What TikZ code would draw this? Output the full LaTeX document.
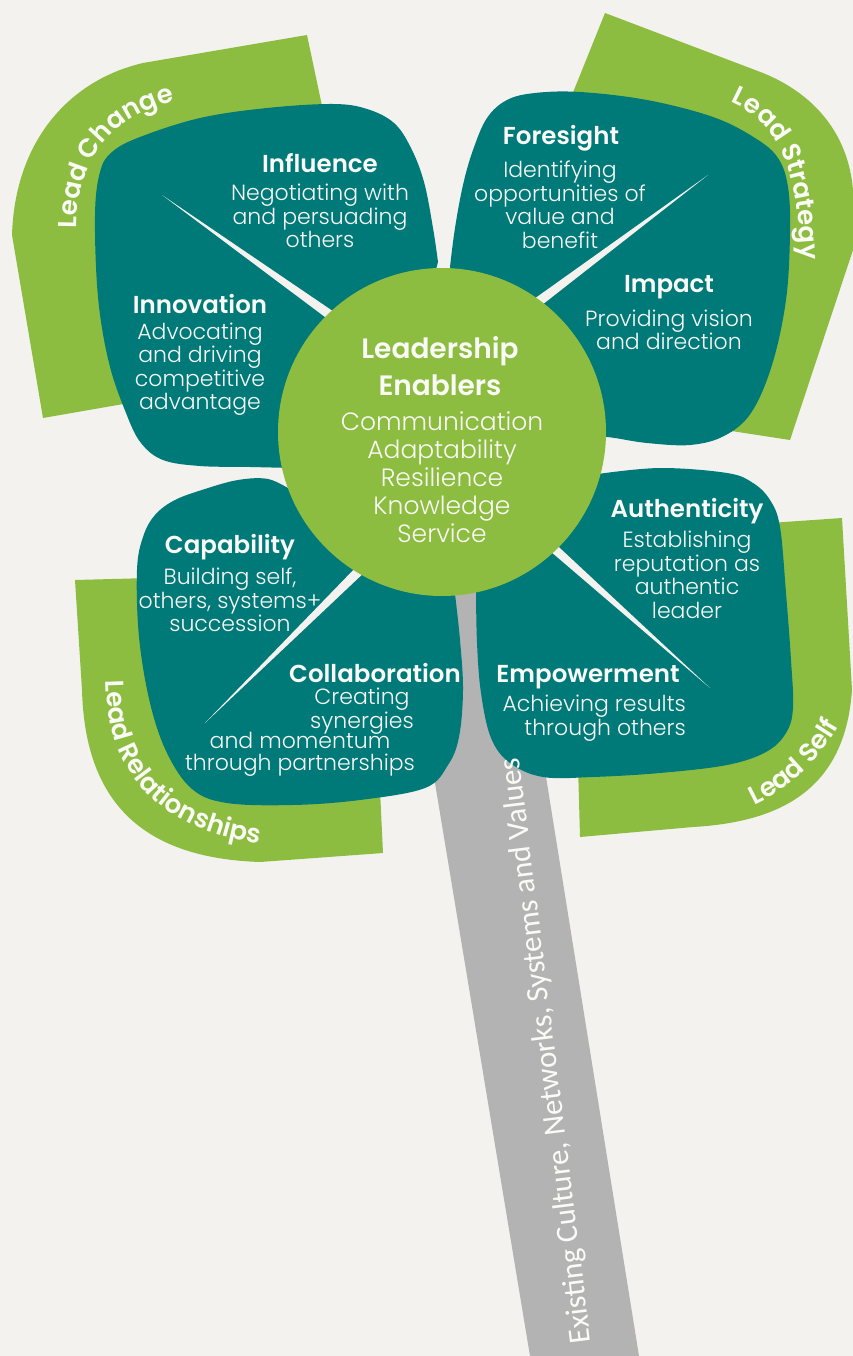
\documentclass[tikz,border=0pt]{standalone}
\usepackage{fontspec}
\setmainfont{Poppins}
\newfontfamily\headfont{Poppins SemiBold}
\newfontfamily\bodyfont{Poppins Light}
\newfontfamily\stemfont{Carlito}
\usetikzlibrary{decorations.text}

\definecolor{paper}{RGB}{243,242,238}
\definecolor{leaf}{RGB}{141,189,64}
\definecolor{petal}{RGB}{0,121,121}
\definecolor{stalk}{RGB}{179,179,179}
\definecolor{ink}{RGB}{250,250,246}

\tikzset{
  head/.style={text=ink, font=\headfont\fontsize{24.5}{27}\selectfont, inner sep=0pt},
  body/.style={text=ink, font=\bodyfont\fontsize{22}{23.5}\selectfont, align=center, inner sep=0pt},
  hubhead/.style={text=ink, font=\headfont\fontsize{28}{37}\selectfont, align=center, inner sep=0pt},
  hubbody/.style={text=ink, font=\bodyfont\fontsize{25}{28}\selectfont, align=center, inner sep=0pt},
  vein/.style={fill=paper},
  leaflabel/.style={decorate, decoration={text along path, text align=center,
      text color=ink, text={|\headfont\fontsize{26}{28}\selectfont|#1}}}
}

\begin{document}
\begin{tikzpicture}[x=1pt,y=-1pt]
\useasboundingbox (0,0) rectangle (853,1356);
\fill[paper] (0,0) rectangle (853,1356);

% stalk
\fill[stalk] (403,590) -- (516,590) -- (639,1356) -- (530,1356) -- cycle;

% green outer leaves
\fill[leaf] (43,418) -- (135,402) -- (250,250) -- (325,120) -- (307,35) -- (143,63)
  .. controls (70,80) and (15,140) .. (12,235) -- cycle;
\fill[leaf] (605,13) -- (763,73) .. controls (810,92) and (848,130) .. (853,190)
  -- (853,250) -- (790,440) -- (725,430) -- (640,300) -- (570,100) -- cycle;
\fill[leaf] (770,523) -- (842,518) -- (852,690) .. controls (845,790) and (780,822) .. (693,827)
  -- (580,837) -- (578,765) -- cycle;
\fill[leaf] (75,580) -- (82,690) .. controls (85,800) and (140,858) .. (260,862)
  -- (383,853) -- (380,790) -- (150,578) -- cycle;

% teal petals
\fill[petal] (420,330) -- plot[smooth, tension=0.6] coordinates {(438,262) (433,228) (424,182)
  (411,148) (394,123) (367,109) (333,104) (267,108) (200,118) (140,137) (112,152) (100,172)
  (95,215) (98,297) (109,363) (126,413) (141,443) (163,460) (200,466) (250,467) (292,468)}
  -- (330,420) -- cycle;
\fill[petal] (470,330) -- plot[smooth, tension=0.6] coordinates {(450,267) (455,228) (463,185)
  (473,150) (487,118) (507,100) (535,93) (580,92) (647,100) (713,117) (755,138) (778,158)
  (788,187) (790,233) (786,300) (772,365) (751,413) (724,436) (690,445) (647,443) (615,438)
  (598,436)} -- (520,420) -- cycle;
\fill[petal] (500,500) -- plot[smooth, tension=0.6] coordinates {(598,474) (660,468) (727,473)
  (753,483) (770,500) (780,527) (786,593) (791,660) (793,708) (786,733) (766,752) (727,765)
  (660,773) (593,777) (543,777) (510,763) (491,738) (481,693) (477,643) (476,590)} -- cycle;
\fill[petal] (380,520) -- plot[smooth, tension=0.6] coordinates {(291,490) (268,479) (238,480)
  (205,489) (175,500) (155,515) (143,537) (137,570) (139,637) (150,703) (167,753) (192,789)
  (227,803) (293,805) (360,800) (425,788) (448,765) (459,737) (463,690) (460,640) (455,594)}
  -- cycle;

% veins
\fill[vein] (162,195) -- (343,318) -- (337,326) -- cycle;
\fill[vein] (708,175) -- (533,312) -- (527,304) -- cycle;
\fill[vein] (205,723) -- (368.5,568.5) -- (361.5,561.5) -- cycle;
\fill[vein] (710,688) -- (547,548.4) -- (553,541.6) -- cycle;

% centre disc
\node[circle, fill=leaf, minimum size=328pt, inner sep=0pt] (hub) at (442,432) {};
\node[hubhead] (hubTitle) at (440,366) {Leadership\\Enablers};
\node[hubbody] (hubList) at (442,477) {Communication\\Adaptability\\Resilience\\Knowledge\\Service};

% petal texts
\node[head] (influence) at (320,163) {Influence};
\node[body] (influenceTxt) at (320,216) {Negotiating with\\and persuading\\others};
\node[head] (innovation) at (200,304) {Innovation};
\node[body] (innovationTxt) at (200,369) {Advocating\\and driving\\competitive\\advantage};
\node[head] (foresight) at (561,138) {Foresight};
\node[body] (foresightTxt) at (560,205) {Identifying\\opportunities of\\value and\\benefit};
\node[head] (impact) at (669,287) {Impact};
\node[body] (impactTxt) at (669,330) {Providing vision\\and direction};
\node[head] (capability) at (230,547) {Capability};
\node[body] (capabilityTxt) at (230,600) {Building self,\\others, systems+\\succession};
\node[head] (collab) at (375,673) {Collaboration};
\node[body] (collabTxtA) at (362,711) {Creating\\synergies};
\node[body, font=\bodyfont\fontsize{22}{22}\selectfont] (collabTxtB) at (300,754) {and momentum\\through partnerships};
\node[head] (authenticity) at (687,511) {Authenticity};
\node[body] (authenticityTxt) at (687,575) {Establishing\\reputation as\\authentic\\leader};
\node[head] (empower) at (588,677) {Empowerment};
\node[body, align=right, anchor=east] (empowerTxt) at (686,718) {Achieving results\\through others};

% stalk label
\node[rotate=97, text=ink, inner sep=0pt, font=\stemfont\fontsize{31}{34}\selectfont] (roots)
  at (547,1051) {Existing Culture, Networks, Systems and Values};

% curved leaf labels
\path[leaflabel={Lead Change}] (77,232) .. controls (75,160) and (112,115) .. (178,101);
\path[leaflabel={Lead Strategy}] (726,100) .. controls (772,118) and (798,155) .. (801,265);
\path[leaflabel={Lead Self}] (748,808) .. controls (785,792) and (818,765) .. (842,720);
\path[leaflabel={Lead Relationships}] (106,672) .. controls (104,765) and (150,830) .. (268,845);
\end{tikzpicture}
\end{document}
